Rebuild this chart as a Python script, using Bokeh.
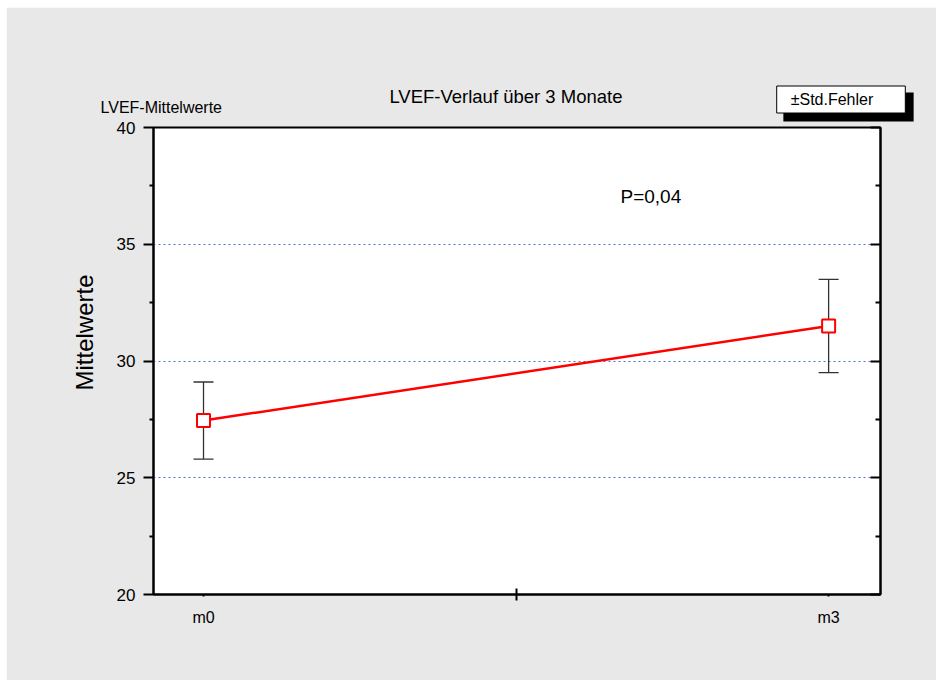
from bokeh.plotting import figure
from bokeh.models import (Range1d, LinearAxis, FixedTicker, Grid, Label,
                          Whisker, TeeHead, ColumnDataSource, CustomJSTickFormatter)
from bokeh.embed import file_html
from bokeh.resources import INLINE

# LVEF means (with standard error) at baseline and after 3 months
timepoints = ["m0", "m3"]
positions = [0, 1]
lvef_mean = [27.45, 31.5]
lvef_se = [1.65, 2.0]

y_ticks = [20, 25, 30, 35, 40]
y_minor_ticks = [22.5, 27.5, 32.5, 37.5]

FONT = "Liberation Sans"
INK = "black"

X_LO, X_HI = -0.08, 1.083
Y_LO, Y_HI = 20, 40
# plot frame on the page: left, top, right, bottom (px)
FL, FT, FR, FB = 153, 127, 880, 594

lower = [m - s for m, s in zip(lvef_mean, lvef_se)]
upper = [m + s for m, s in zip(lvef_mean, lvef_se)]
src = ColumnDataSource(dict(x=positions, mean=lvef_mean, lower=lower, upper=upper))

p = figure(width=930, height=673, output_backend="svg", toolbar_location=None,
           x_range=Range1d(X_LO, X_HI), y_range=Range1d(Y_LO, Y_HI),
           x_axis_type=None, y_axis_type=None,
           min_border_left=FL - 6, min_border_right=930 - (FR - 6),
           min_border_top=FT - 7, min_border_bottom=673 - (FB - 7),
           background_fill_color="white", border_fill_color="#e8e8e8",
           outline_line_color=INK, outline_line_width=2)
p.styles = {"margin-left": "6px", "margin-top": "7px"}

yticker = FixedTicker(ticks=y_ticks, minor_ticks=y_minor_ticks)

left = LinearAxis(ticker=yticker, axis_line_width=2, axis_line_color=INK,
                  major_tick_line_width=2, major_tick_line_color=INK,
                  minor_tick_line_width=2, minor_tick_line_color=INK,
                  major_tick_out=10, major_tick_in=0, minor_tick_out=4, minor_tick_in=0,
                  major_label_standoff=8, major_label_text_font=FONT,
                  major_label_text_font_size="17px", major_label_text_color=INK)
p.add_layout(left, "left")

right = LinearAxis(ticker=yticker, formatter=CustomJSTickFormatter(code="return ''"),
                   axis_line_width=2, axis_line_color=INK,
                   major_tick_line_width=2, major_tick_line_color=INK,
                   minor_tick_line_width=2, minor_tick_line_color=INK,
                   major_tick_out=0, major_tick_in=10, minor_tick_out=0, minor_tick_in=5)
p.add_layout(right, "right")

bottom = LinearAxis(ticker=FixedTicker(ticks=positions, minor_ticks=[0.5]),
                    formatter=CustomJSTickFormatter(args=dict(labels=timepoints),
                                                    code="return labels[Math.round(tick)]"),
                    axis_line_width=2, axis_line_color=INK,
                    major_tick_line_width=2, major_tick_line_color=INK,
                    minor_tick_line_width=2, minor_tick_line_color=INK,
                    major_tick_out=2, major_tick_in=0, minor_tick_out=6, minor_tick_in=6,
                    major_label_standoff=8, major_label_text_font=FONT,
                    major_label_text_font_size="16px", major_label_text_color=INK)
p.add_layout(bottom, "below")

p.add_layout(Grid(dimension=1, ticker=yticker, grid_line_color="#4f74d0",
                  grid_line_dash="2 3", grid_line_width=1.2))

# connecting line, error bars and markers
p.line(x="x", y="mean", source=src, line_color="#ff0000", line_width=2.5)
whisk = Whisker(source=src, base="x", upper="upper", lower="lower",
                line_color="#333333", line_width=1.3,
                upper_head=TeeHead(size=20, line_color="#333333", line_width=1.3),
                lower_head=TeeHead(size=20, line_color="#333333", line_width=1.3))
p.add_layout(whisk)
p.scatter(x="x", y="mean", source=src, marker="square", size=13,
          fill_color="white", line_color="#ff0000", line_width=2)


def to_x(px):
    return X_LO + (px - FL) / (FR - FL) * (X_HI - X_LO)


def to_y(py):
    return Y_LO + (FB - py) / (FB - FT) * (Y_HI - Y_LO)


def add_text(text, px, py, size, side, align="left", angle=0, font=FONT, **kw):
    lab = Label(x=to_x(px), y=to_y(py), text=text, text_font=font,
                text_font_size=size, text_color=INK, text_align=align,
                text_baseline="middle", angle=angle, **kw)
    if side == "center":
        p.add_layout(lab)
    else:
        p.add_layout(lab, side)


add_text("LVEF-Verlauf  über 3 Monate", 508, 96, "18.5px", "above", align="center")
add_text("LVEF-Mittelwerte", 100, 107, "16px", "above")
add_text("P=0,04", 620, 196, "19px", "center")
add_text("Mittelwerte", 84, 332, "24px", "left", align="center", angle=1.5708)

# legend box with its drop shadow
add_text(" ", 848, 106.5, "1px", "above", align="center", anchor="center",
         padding=dict(left=65, right=65, top=14, bottom=14),
         background_fill_color=INK, background_fill_alpha=1)
add_text("±Std.Fehler", 840.5, 99, "16px", "above", anchor="center",
         padding=dict(left=14, right=32, top=5, bottom=5),
         background_fill_color="white", background_fill_alpha=1,
         border_line_color=INK, border_line_width=1)

open("out.html", "w").write(file_html(p, INLINE))
